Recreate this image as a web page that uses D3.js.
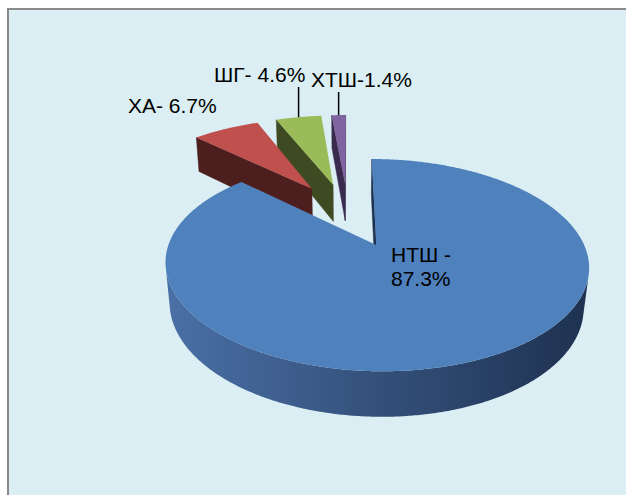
<!DOCTYPE html>
<html>
<head>
<meta charset="utf-8">
<script src="https://cdn.jsdelivr.net/npm/d3@7"></script>
<style>
  body { margin: 0; background: #ffffff; }
  svg { display: block; }
  .label { font-family: "Liberation Sans", Arial, sans-serif; font-size: 21px; fill: #000000; }
</style>
</head>
<body>
<div id="graphic"></div>
<script>
// data
const categories = ["НТШ", "ХА", "ШГ", "ХТШ"];
const values = [87.3, 6.7, 4.6, 1.4];
const labelLines = [["НТШ -", "87.3%"], ["ХА- 6.7%"], ["ШГ- 4.6%"], ["ХТШ-1.4%"]];

// styles
const topColours = ["#4f81bd", "#c0504d", "#9bbb59", "#8064a2"];
const wallColours = ["#1e3150", "#4d1e1e", "#3d4a22", "#3a2b4e"];
const sideLight = ["#4a70a6", "#8a3a38", "#6f8740", "#5c4775"];
const sideDark = ["#1e3150", "#4d1e1e", "#3d4a22", "#3a2b4e"];

// label layout (start x, first baseline) and whether a leader line is drawn
const labelLayout = [
    { x: 391, y: 262, leader: false },
    { x: 128, y: 113, leader: false },
    { x: 214, y: 82, leader: true },
    { x: 311, y: 87, leader: true }
];

const width = 626, height = 495;

// 3D view settings
const view = {
    cx: 348, cy: 214,      // screen position of the pie centre
    K: 196,                // radius scale in px
    tilt: Math.asin(0.464),
    D: 4.98,               // camera distance (in radii)
    depth: 0.225,          // pie thickness (in radii)
    explode: 0.35          // explosion distance (in radii)
};
const cosA = Math.cos(view.tilt), sinA = Math.sin(view.tilt);
const camera = [0, view.D * sinA, -view.D * cosA];

// x right, y up, z away from viewer
function project(x, y, z) {
    const u = y * cosA + z * sinA;
    const w = z * cosA - y * sinA;
    const s = view.D / (view.D + w);
    return [view.cx + view.K * x * s, view.cy - view.K * u * s];
}

function facing(normal, point) {
    const v = [camera[0] - point[0], camera[1] - point[1], camera[2] - point[2]];
    return normal[0] * v[0] + normal[1] * v[1] + normal[2] * v[2] > 0;
}

const svg = d3.select('#graphic').append('svg')
    .attr('width', width)
    .attr('height', height);
const defs = svg.append('defs');

// chart area frame
svg.append('rect')
    .attr('x', 8).attr('y', 9)
    .attr('width', 700).attr('height', 600)
    .attr('fill', '#daeef3')
    .attr('stroke', '#8a8a8a')
    .attr('stroke-width', 2);

const pie = d3.pie().sort(null).startAngle(0).endAngle(2 * Math.PI);
const arcs = pie(values);
const line = d3.line();

const slices = arcs.map((a, i) => {
    const mid = (a.startAngle + a.endAngle) / 2;
    const ox = view.explode * Math.sin(mid);
    const oz = view.explode * Math.cos(mid);
    const n = Math.max(2, Math.ceil((a.endAngle - a.startAngle) / (Math.PI / 360)));
    const angles = d3.range(n + 1).map((k) => a.startAngle + (a.endAngle - a.startAngle) * k / n);
    return { a, i, mid, ox, oz, angles };
});

// far slices first
slices.sort((p, q) => q.oz - p.oz);

const pieG = svg.append('g').attr('class', 'pie3d');

slices.forEach((sl) => {
    const g = pieG.append('g').attr('class', 'slice ' + categories[sl.i]);
    const H = view.depth;
    const rim = (t, y) => [sl.ox + Math.sin(t), y, sl.oz + Math.cos(t)];
    const apex = (y) => [sl.ox, y, sl.oz];

    // radial walls
    const walls = [
        { t: sl.a.startAngle, n: [-Math.cos(sl.a.startAngle), 0, Math.sin(sl.a.startAngle)] },
        { t: sl.a.endAngle, n: [Math.cos(sl.a.endAngle), 0, -Math.sin(sl.a.endAngle)] }
    ];
    walls.forEach((wl) => {
        const pts = [apex(0), rim(wl.t, 0), rim(wl.t, -H), apex(-H)];
        const c = [sl.ox + Math.sin(wl.t) / 2, -H / 2, sl.oz + Math.cos(wl.t) / 2];
        if (!facing(wl.n, c)) return;
        g.append('path')
            .attr('d', line(pts.map((p) => project(...p))) + 'Z')
            .attr('fill', wallColours[sl.i])
            .attr('stroke', wallColours[sl.i])
            .attr('stroke-width', 0.5)
            .attr('stroke-linejoin', 'round');
    });

    // outer curved side: the part that faces the camera, with a left-to-right gradient
    const visible = sl.angles.filter((t) => facing([Math.sin(t), 0, Math.cos(t)], rim(t, -H / 2)));
    if (visible.length > 1) {
        const xs = d3.range(0, 361, 2).map((d) => project(...rim(d * Math.PI / 180, 0))[0]);
        const gradId = 'side-' + sl.i;
        const grad = defs.append('linearGradient')
            .attr('id', gradId)
            .attr('gradientUnits', 'userSpaceOnUse')
            .attr('x1', d3.min(xs)).attr('x2', d3.max(xs))
            .attr('y1', 0).attr('y2', 0);
        grad.append('stop').attr('offset', 0).attr('stop-color', sideLight[sl.i]);
        grad.append('stop').attr('offset', 1).attr('stop-color', sideDark[sl.i]);
        const pts = visible.map((t) => rim(t, 0)).concat(visible.slice().reverse().map((t) => rim(t, -H)));
        g.append('path')
            .attr('d', line(pts.map((p) => project(...p))) + 'Z')
            .attr('fill', `url(#${gradId})`);
    }

    // top face
    const topPts = [apex(0)].concat(sl.angles.map((t) => rim(t, 0)));
    g.append('path')
        .attr('d', line(topPts.map((p) => project(...p))) + 'Z')
        .attr('fill', topColours[sl.i]);

    sl.outerMid = project(...rim(sl.mid, 0));
});

// labels
const byIndex = d3.index(slices, (d) => d.i);
labelLayout.forEach((lay, i) => {
    const txt = svg.append('text')
        .attr('class', 'label')
        .attr('x', lay.x)
        .attr('y', lay.y);
    labelLines[i].forEach((s, j) => {
        txt.append('tspan')
            .attr('x', lay.x)
            .attr('y', lay.y + j * 24)
            .text(s);
    });
    if (lay.leader) {
        const end = byIndex.get(i).outerMid;
        svg.append('line')
            .attr('x1', end[0]).attr('x2', end[0])
            .attr('y1', lay.y + 5).attr('y2', end[1])
            .attr('stroke', '#000000')
            .attr('stroke-width', 1.5);
    }
});
</script>
</body>
</html>
